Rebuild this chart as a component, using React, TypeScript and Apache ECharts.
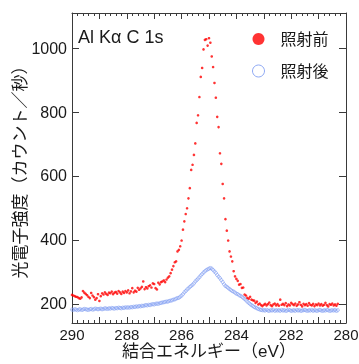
import React, { useEffect, useRef } from "react";
import * as echarts from "echarts";

// Binding energy grid (eV), measured from 290.00 eV downwards in 0.05 eV steps
const energyStart = 290;
const energyStep = 0.05;

// 照射前 (counts / s)
const beforeCounts = [
  228, 226, 224, 222, 221, 218, 216, 220, 240, 235, 231, 227, 222, 218, 234, 226, 221, 213, 218, 230,
  209, 224, 233, 229, 236, 231, 228, 235, 233, 238, 230, 235, 237, 232, 240, 236, 231, 238, 234, 240,
  236, 242, 233, 239, 249, 236, 241, 238, 250, 244, 248, 253, 270, 246, 252, 248, 255, 258, 251, 264,
  262, 249, 245, 266, 261, 268, 270, 273, 268, 276, 282, 286, 296, 307, 318, 330, 333, 364, 369, 380,
  398, 432, 458, 481, 499, 530, 562, 619, 635, 666, 702, 766, 790, 847, 910, 938, 996, 1026, 1028, 1008,
  1031, 1017, 974, 941, 891, 845, 785, 753, 671, 638, 575, 530, 465, 429, 398, 364, 348, 333, 302, 286,
  278, 272, 260, 262, 250, 251, 229, 226, 219, 216, 222, 213, 211, 210, 203, 207, 198, 201, 196, 193,
  197, 200, 195, 199, 204, 196, 193, 198, 201, 195, 199, 194, 213, 197, 200, 196, 202, 193, 198, 195,
  203, 199, 196, 201, 194, 198, 205, 197, 192, 200, 196, 199, 194, 202, 197, 195, 200, 193, 198, 196,
  201, 195, 199, 194, 197, 203, 196, 192, 199, 197, 201, 195, 198, 194, 200,
];

// 照射後 (counts / s)
const afterCounts = [
  182, 181, 183, 182, 180, 182, 183, 181, 182, 184, 183, 182, 181, 183, 184, 182, 183, 185, 184, 183,
  184, 185, 183, 184, 186, 185, 184, 186, 185, 187, 186, 185, 187, 186, 188, 187, 186, 188, 187, 189,
  188, 189, 188, 190, 189, 191, 190, 192, 191, 193, 192, 194, 193, 195, 196, 195, 197, 196, 198, 199,
  198, 200, 201, 200, 202, 203, 204, 205, 206, 207, 207, 209, 210, 211, 213, 214, 216, 218, 219, 222,
  226, 230, 236, 240, 245, 248, 253, 256, 260, 264, 270, 274, 279, 283, 289, 293, 298, 302, 305, 308,
  310, 312, 310, 306, 301, 297, 290, 285, 280, 274, 268, 261, 256, 253, 250, 246, 243, 240, 238, 235,
  232, 230, 227, 225, 222, 219, 215, 211, 207, 203, 199, 196, 193, 190, 188, 186, 184, 182, 181, 180,
  180, 179, 181, 179, 178, 180, 179, 181, 178, 180, 179, 180, 178, 181, 179, 180, 178, 179, 181, 180,
  178, 179, 180, 178, 181, 179, 180, 178, 179, 180, 181, 179, 178, 180, 179, 181, 178, 180, 179, 178,
  180, 181, 179, 178, 180, 179, 181, 180, 178, 179, 180, 179, 181, 178, 180,
];

const yTickValues = [200, 400, 600, 800, 1000];
const seriesNames = ["照射前", "照射後"];
const xAxisName = "結合エネルギー（eV）";
const yAxisName = "光電子強度（カウント／秒）";
const annotation = "Al Kα C 1s";

const FONT = '"Liberation Sans", Arial, "Noto Sans CJK JP", sans-serif';
const INK = "#1a1a1a";
const AXIS = "#3a3a3a";
const RED = "#ff0000";
const BLUE = "#7393f0";

export default function App() {
  const ref = useRef<HTMLDivElement>(null);

  useEffect(() => {
    if (!ref.current) return;
    const chart = echarts.init(ref.current, null, { renderer: "svg" });
    const energies = beforeCounts.map((_, i) => +(energyStart - i * energyStep).toFixed(2));
    const beforeData = energies.map((e, i) => [e, beforeCounts[i]]);
    const afterData = energies.map((e, i) => [e, afterCounts[i]]);

    const lineStyle = { color: AXIS, width: 1 };
    const xCommon = {
      type: "value" as const,
      inverse: true,
      min: 280,
      max: 290,
      interval: 1,
      axisLine: { show: true, onZero: false, lineStyle },
      axisTick: { show: true, inside: true, length: 6, lineStyle },
      minorTick: { show: true, inside: true, splitNumber: 5, length: 3, lineStyle },
      splitLine: { show: false },
      minorSplitLine: { show: false },
    };
    const yCommon = {
      type: "value" as const,
      min: 140,
      max: 1110,
      axisLine: { show: true, onZero: false, lineStyle },
      axisTick: { show: true, inside: true, length: 7, lineStyle, customValues: yTickValues },
      splitLine: { show: false },
    };

    chart.setOption({
      animation: false,
      textStyle: { fontFamily: FONT },
      grid: {
        left: 72,
        right: 13,
        top: 13,
        bottom: 41,
        containLabel: false,
        outerBoundsMode: "none",
      },
      xAxis: [
        {
          ...xCommon,
          position: "bottom",
          axisLabel: {
            show: true,
            fontSize: 15,
            color: INK,
            fontFamily: FONT,
            margin: 4,
            formatter: (v: number) => (Math.round(v) % 2 === 0 ? String(Math.round(v)) : ""),
          },
          name: xAxisName,
          nameLocation: "middle",
          nameGap: 20,
          nameMoveOverlap: false,
          nameTextStyle: { fontSize: 17, color: INK, fontFamily: FONT },
        },
        {
          ...xCommon,
          position: "top",
          axisLabel: { show: false },
        },
      ],
      yAxis: [
        {
          ...yCommon,
          position: "left",
          axisLabel: {
            show: true,
            fontSize: 16,
            color: INK,
            fontFamily: FONT,
            margin: 5,
            customValues: yTickValues,
            formatter: (v: number) => String(v),
          },
          name: yAxisName,
          nameLocation: "middle",
          nameGap: 43,
          nameMoveOverlap: false,
          nameTextStyle: { fontSize: 17, color: INK, fontFamily: FONT },
        },
        {
          ...yCommon,
          position: "right",
          axisLabel: { show: false },
        },
      ],
      legend: {
        orient: "vertical",
        left: 252,
        top: 31,
        itemWidth: 12,
        itemHeight: 12,
        itemGap: 16,
        padding: 0,
        icon: "circle",
        data: seriesNames,
        itemStyle: { borderWidth: 1 },
        textStyle: { fontSize: 16, color: INK, fontFamily: FONT, padding: [0, 0, 0, 11] },
      },
      graphic: [
        {
          type: "text",
          left: 78,
          top: 28,
          style: { text: annotation, fontSize: 18, fill: INK, fontFamily: FONT },
        },
      ],
      series: [
        {
          name: seriesNames[0],
          type: "scatter",
          xAxisIndex: 0,
          yAxisIndex: 0,
          data: beforeData,
          symbol: "circle",
          symbolSize: 2.6,
          z: 3,
          itemStyle: { color: RED },
        },
        {
          name: seriesNames[1],
          type: "scatter",
          xAxisIndex: 0,
          yAxisIndex: 0,
          data: afterData,
          symbol: "circle",
          symbolSize: 3.2,
          z: 2,
          itemStyle: { color: "rgba(255,255,255,0)", borderColor: BLUE, borderWidth: 0.7 },
        },
      ],
    });
    return () => chart.dispose();
  }, []);

  return (
    <div
      ref={ref}
      style={{ position: "fixed", left: 0, top: 0, width: 359, height: 364 }}
    />
  );
}
